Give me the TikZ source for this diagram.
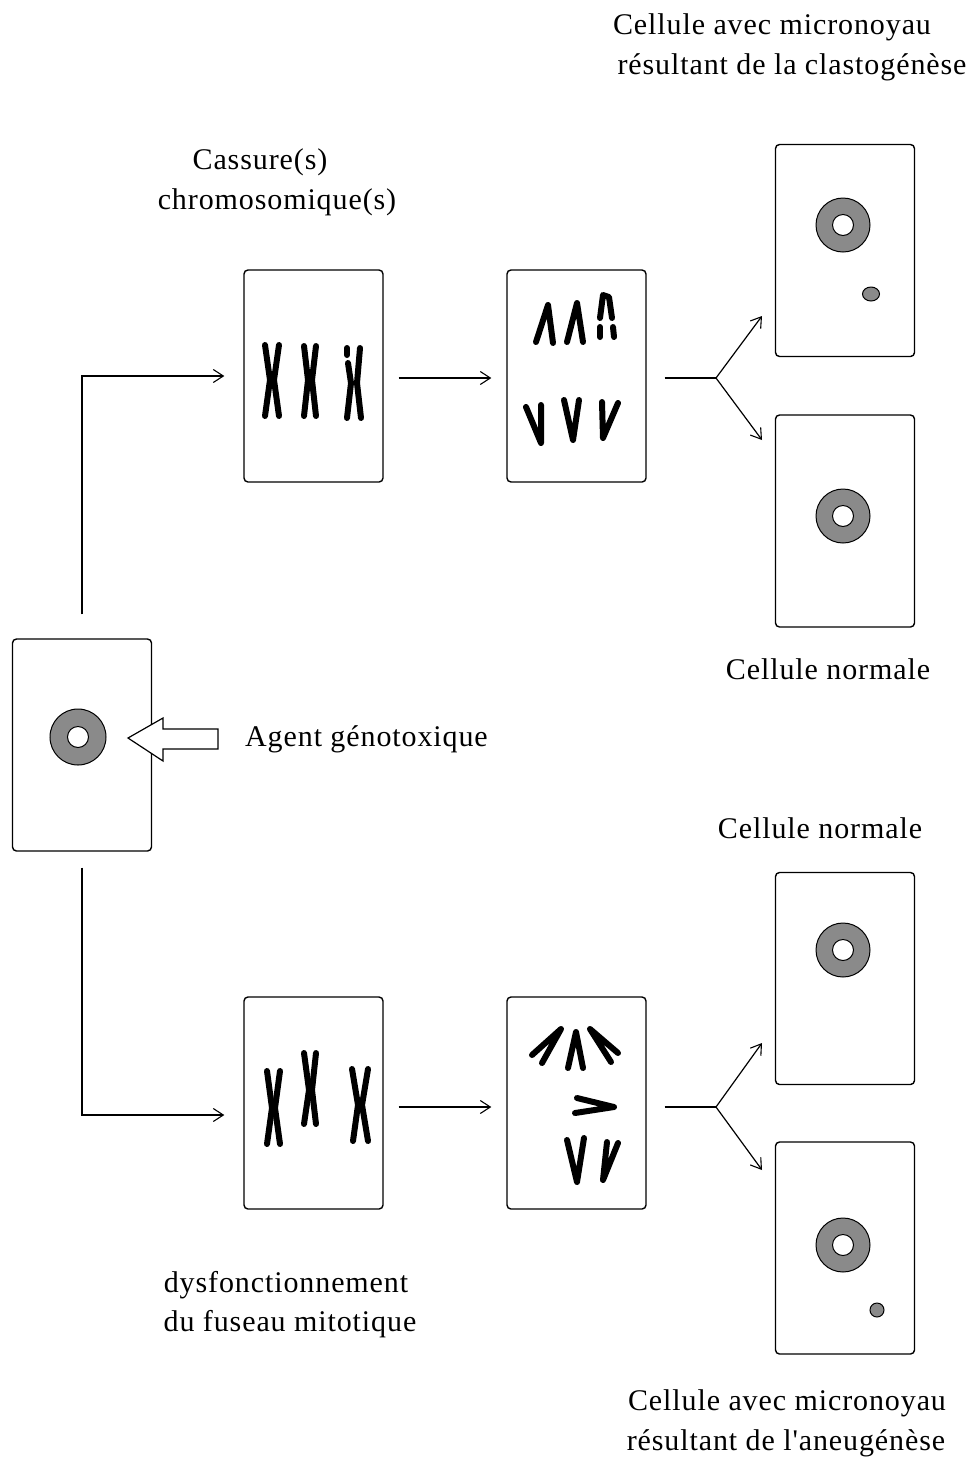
\documentclass[tikz,border=0pt]{standalone}
\usepackage{fontspec}
\setmainfont{Liberation Serif}[LetterSpace=3,Ligatures=TeXOff]
\usetikzlibrary{arrows.meta,positioning}
\definecolor{noyaugris}{RGB}{138,138,138}

\begin{document}
\begin{tikzpicture}[x=1pt,y=-1pt]
\tikzset{cell/.style = {shape=rectangle,draw,rounded corners=4pt,line width=1.4pt,minimum width=139pt,minimum height=212pt}}
\tikzset{edge/.style = {-{Straight Barb[length=10pt,width=13pt,line width=1.1pt]},line width=1.2pt}}
\tikzset{legende/.style = {font=\fontsize{30}{36}\selectfont,inner sep=0pt}}
\tikzset{chrom/.style = {line width=6pt,line cap=round,line join=round}}
\tikzset{noyau/.style = {draw,fill=noyaugris,line width=1pt}}
\tikzset{trou/.style = {draw,fill=white,line width=1pt}}
\useasboundingbox (0,0) rectangle (973,1460);

% cellules
\node[cell] (c0) at (82,745)    {};
\node[cell] (a1) at (313.5,376) {};
\node[cell] (a2) at (576.5,376) {};
\node[cell] (r1) at (845,250.5) {};
\node[cell] (r2) at (845,521)   {};
\node[cell] (b1) at (313.5,1103) {};
\node[cell] (b2) at (576.5,1103) {};
\node[cell] (r3) at (845,978.5) {};
\node[cell] (r4) at (845,1248)  {};

% noyaux
\draw[noyau] (78,737) circle (28pt);   \draw[trou] (78,737) circle (10.5pt);
\draw[noyau] (843,225) circle (27pt);  \draw[trou] (843,225) circle (10.5pt);
\draw[noyau] (843,516) circle (27pt);  \draw[trou] (843,516) circle (10.5pt);
\draw[noyau] (843,950) circle (27pt);  \draw[trou] (843,950) circle (10.5pt);
\draw[noyau] (843,1245) circle (27pt); \draw[trou] (843,1245) circle (10.5pt);
% micronoyaux
\draw[noyau] (871,294) ellipse (8.5pt and 7pt);
\draw[noyau] (877,1310) circle (7pt);

% agent genotoxique
\draw[line width=1.2pt,fill=white] (218,729) -- (163,729) -- (163,718) -- (128,738) -- (163,761) -- (163,749) -- (218,749) -- cycle;
\node[legende,anchor=west] (agent) at (245,739) {Agent génotoxique};

% fleches
\draw[edge,shorten <=24pt,shorten >=19pt] (c0.north) |- (a1.west);
\draw[edge,shorten <=16pt,shorten >=19pt] (c0.south) |- ([yshift=-12pt]b1.west);
\draw[edge,shorten <=15pt,shorten >=15pt] ([yshift=-2pt]a1.east) -- ([yshift=-2pt]a2.west);
\draw[edge,shorten <=15pt,shorten >=15pt] ([yshift=-4pt]b1.east) -- ([yshift=-4pt]b2.west);

\coordinate (k1) at (716,378);
\coordinate (p1) at (762,316);
\coordinate (p2) at (762,440);
\draw[line width=1.2pt,shorten <=18pt] ([yshift=-2pt]a2.east) -- (k1);
\draw[edge] (k1) -- (p1);
\draw[edge] (k1) -- (p2);

\coordinate (k2) at (716,1107);
\coordinate (p3) at (762,1043);
\coordinate (p4) at (762,1170);
\draw[line width=1.2pt,shorten <=18pt] ([yshift=-4pt]b2.east) -- (k2);
\draw[edge] (k2) -- (p3);
\draw[edge] (k2) -- (p4);

% chromosomes, cassure
\draw[chrom] (265,345) -- (270,380) -- (265,416);
\draw[chrom] (279,345) -- (274,380) -- (279,416);
\draw[chrom] (304,346) -- (308,380) -- (304,416);
\draw[chrom] (316,346) -- (312,380) -- (316,416);
\draw[chrom] (347,348) -- (347,355);
\draw[chrom] (348,363) -- (351,383) -- (347,418);
\draw[chrom] (360,348) -- (357,383) -- (361,418);
% anaphase, cassure
\draw[chrom] (536,342) -- (548,305) -- (553,343);
\draw[chrom] (567,342) -- (577,303) -- (583,342);
\draw[chrom] (600,318) -- (603,295) -- (609,297) -- (612,318);
\draw[chrom] (600,327) -- (600,337);
\draw[chrom] (613,327) -- (614,337);
\draw[chrom] (526,407) -- (541,443) -- (541,405);
\draw[chrom] (564,400) -- (573,440) -- (579,400);
\draw[chrom] (602,402) -- (603,438) -- (618,403);

% chromosomes, fuseau
\draw[chrom] (267,1071) -- (272,1108) -- (267,1144);
\draw[chrom] (280,1071) -- (275,1108) -- (280,1144);
\draw[chrom] (304,1053) -- (309,1090) -- (304,1124);
\draw[chrom] (316,1053) -- (312,1090) -- (316,1124);
\draw[chrom] (352,1069) -- (358,1105) -- (353,1141);
\draw[chrom] (368,1069) -- (362,1105) -- (368,1141);
% anaphase, fuseau
\draw[chrom] (532,1055) -- (561,1029) -- (542,1063);
\draw[chrom] (568,1068) -- (576,1032) -- (583,1068);
\draw[chrom] (618,1053) -- (590,1029) -- (611,1062);
\draw[chrom] (577,1098) -- (614,1107) -- (575,1113);
\draw[chrom] (567,1140) -- (577,1182) -- (584,1138);
\draw[chrom] (607,1142) -- (603,1180) -- (618,1143);

% textes
\node[legende] (t1) at (772,27)   {Cellule avec micronoyau};
\node[legende] (t2) at (792,67)   {résultant de la clastogénèse};
\node[legende] (t3) at (260,162)  {Cassure(s)};
\node[legende] (t4) at (277,202)  {chromosomique(s)};
\node[legende] (t5) at (828,669)  {Cellule normale};
\node[legende] (t6) at (820,828)  {Cellule normale};
\node[legende] (t7) at (286,1285) {dysfonctionnement};
\node[legende] (t8) at (290,1324) {du fuseau mitotique};
\node[legende] (t9) at (787,1403) {Cellule avec micronoyau};
\node[legende] (t10) at (786,1443) {résultant de l'aneugénèse};
\end{tikzpicture}
\end{document}
